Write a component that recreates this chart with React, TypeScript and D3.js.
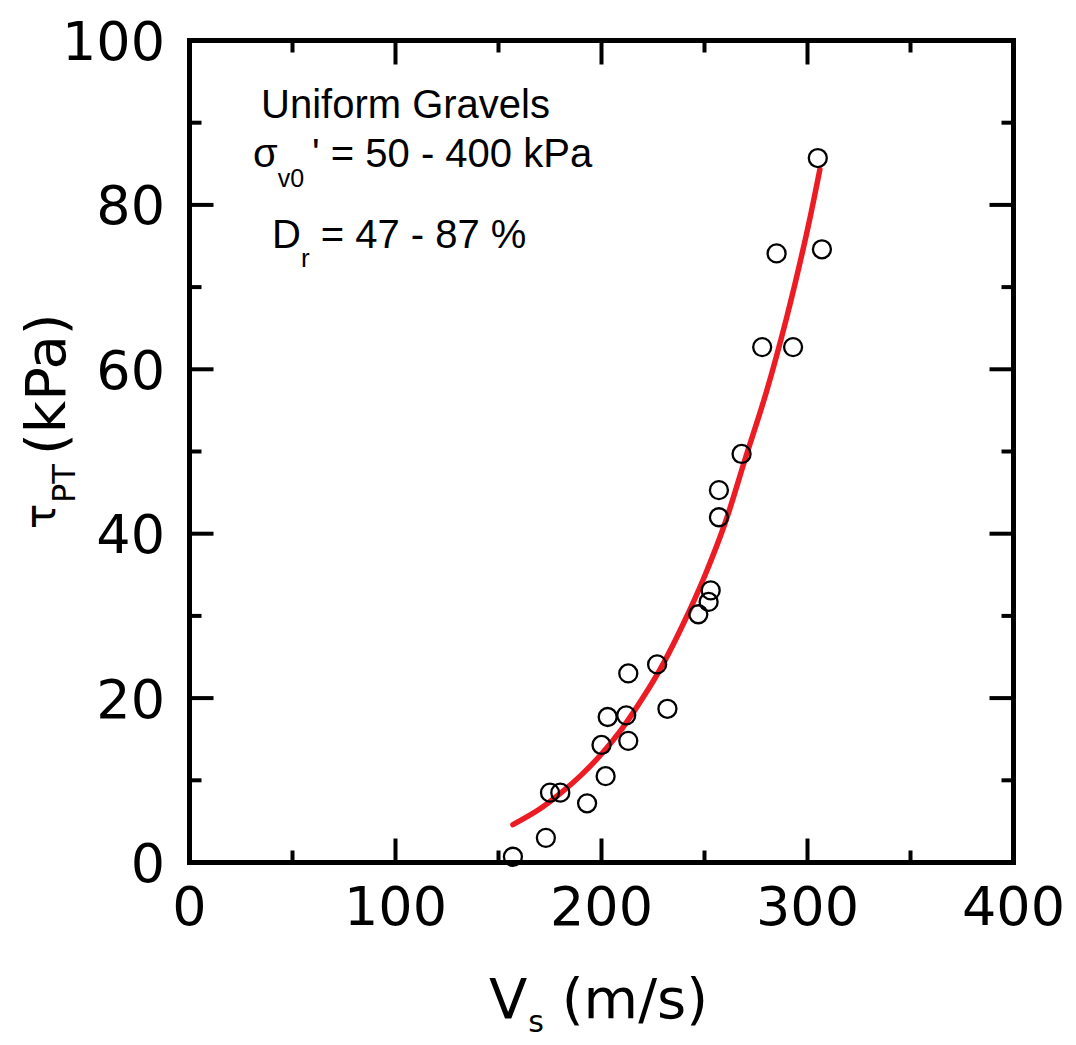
import React from "react";
import * as d3 from "d3";

// Measured data points: Vs (m/s) vs tau_PT (kPa)
const vsValues = [157, 173, 175, 180, 193, 202, 200, 203, 212, 213, 213, 227, 232, 247, 252, 253, 257, 257, 268, 278, 293, 285, 307, 305];
const tauValues = [0.7, 3.0, 8.5, 8.5, 7.2, 10.5, 14.3, 17.7, 17.9, 14.8, 23.0, 24.1, 18.7, 30.2, 31.7, 33.1, 42.0, 45.3, 49.7, 62.7, 62.7, 74.1, 74.6, 85.7];

// Fitted trend curve
const fitVs = [157, 170, 180, 190, 200, 210, 220, 230, 240, 250, 260, 270, 280, 290, 300, 306];
const fitTau = [4.6, 6.5, 8.4, 10.6, 13.2, 16.3, 20.0, 24.2, 29.2, 34.8, 41.3, 49.3, 57.2, 66.4, 77.0, 84.3];

const xMajorTicks = [0, 100, 200, 300, 400];
const xMinorTicks = [50, 150, 250, 350];
const yMajorTicks = [0, 20, 40, 60, 80, 100];
const yMinorTicks = [10, 30, 50, 70, 90];

const W = 1076;
const H = 1045;
const left = 189.5;
const right = 1013.5;
const top = 40.5;
const bottom = 862.5;

export default function App() {
  const x = d3.scaleLinear().domain([0, 400]).range([left, right]);
  const y = d3.scaleLinear().domain([0, 100]).range([bottom, top]);

  const line = d3
    .line<number>()
    .x((_, i) => x(fitVs[i]))
    .y((d) => y(d))
    .curve(d3.curveCatmullRom);

  const tickFont = "'DejaVu Sans', Verdana, sans-serif";
  const annFont = "'Liberation Sans', Arial, sans-serif";
  const MAJ = 24;
  const MIN = 12;

  return (
    <svg
      width={W}
      height={H}
      style={{ position: "absolute", left: 0, top: 0, display: "block", background: "#fff" }}
    >
      <rect x={0} y={0} width={W} height={H} fill="#fff" />
      {/* ticks */}
      <g stroke="#000" strokeWidth={4}>
        {xMajorTicks.map((t) => (
          <g key={"xM" + t}>
            <line x1={x(t)} x2={x(t)} y1={bottom} y2={bottom - MAJ} />
            <line x1={x(t)} x2={x(t)} y1={top} y2={top + MAJ} />
          </g>
        ))}
        {xMinorTicks.map((t) => (
          <g key={"xm" + t}>
            <line x1={x(t)} x2={x(t)} y1={bottom} y2={bottom - MIN} />
            <line x1={x(t)} x2={x(t)} y1={top} y2={top + MIN} />
          </g>
        ))}
        {yMajorTicks.map((t) => (
          <g key={"yM" + t}>
            <line x1={left} x2={left + MAJ} y1={y(t)} y2={y(t)} />
            <line x1={right} x2={right - MAJ} y1={y(t)} y2={y(t)} />
          </g>
        ))}
        {yMinorTicks.map((t) => (
          <g key={"ym" + t}>
            <line x1={left} x2={left + MIN} y1={y(t)} y2={y(t)} />
            <line x1={right} x2={right - MIN} y1={y(t)} y2={y(t)} />
          </g>
        ))}
      </g>
      {/* frame */}
      <rect
        x={left}
        y={top}
        width={right - left}
        height={bottom - top}
        fill="none"
        stroke="#000"
        strokeWidth={5}
      />
      {/* tick labels */}
      <g fontFamily={tickFont} fontSize={54} fill="#000">
        {xMajorTicks.map((t) => (
          <text key={"xl" + t} x={x(t)} y={925} textAnchor="middle">
            {t}
          </text>
        ))}
        {yMajorTicks.map((t) => (
          <text key={"yl" + t} x={165} y={y(t)} dy="0.36em" textAnchor="end">
            {t}
          </text>
        ))}
      </g>
      {/* axis titles */}
      <text x={489} y={1018} textAnchor="start" fontFamily={tickFont} fontSize={56} fill="#000">
        V
        <tspan fontSize={30} dy={14} dx={1}>s</tspan>
        <tspan dy={-14}> (m/s)</tspan>
      </text>
      <g fontFamily={tickFont} fill="#000">
        <text transform="translate(55, 529) rotate(-90)" fontSize={42}>τ</text>
        <text transform="translate(75, 503) rotate(-90)" fontSize={32}>PT</text>
        <text transform="translate(65, 455) rotate(-90)" fontSize={56}>(kPa)</text>
      </g>
      {/* annotations */}
      <g fontFamily={annFont} fontSize={40} fill="#000">
        <text x={261} y={118}>Uniform Gravels</text>
        <text x={253} y={167}>
          σ<tspan fontSize={25} dy={20}>v0</tspan>
          <tspan dy={-20} dx={8}>' = 50 - 400 kPa</tspan>
        </text>
        <text x={272} y={248}>
          D<tspan fontSize={26} dy={19}>r</tspan>
          <tspan dy={-19}> = 47 - 87 %</tspan>
        </text>
      </g>
      {/* fit curve */}
      <path d={line(fitTau) || ""} fill="none" stroke="#ed1c24" strokeWidth={5.5} strokeLinecap="round" />
      {/* points */}
      <g fill="none" stroke="#000" strokeWidth={2.3}>
        {vsValues.map((v, i) => (
          <circle key={"p" + i} cx={x(v)} cy={y(tauValues[i])} r={9} />
        ))}
      </g>
    </svg>
  );
}
